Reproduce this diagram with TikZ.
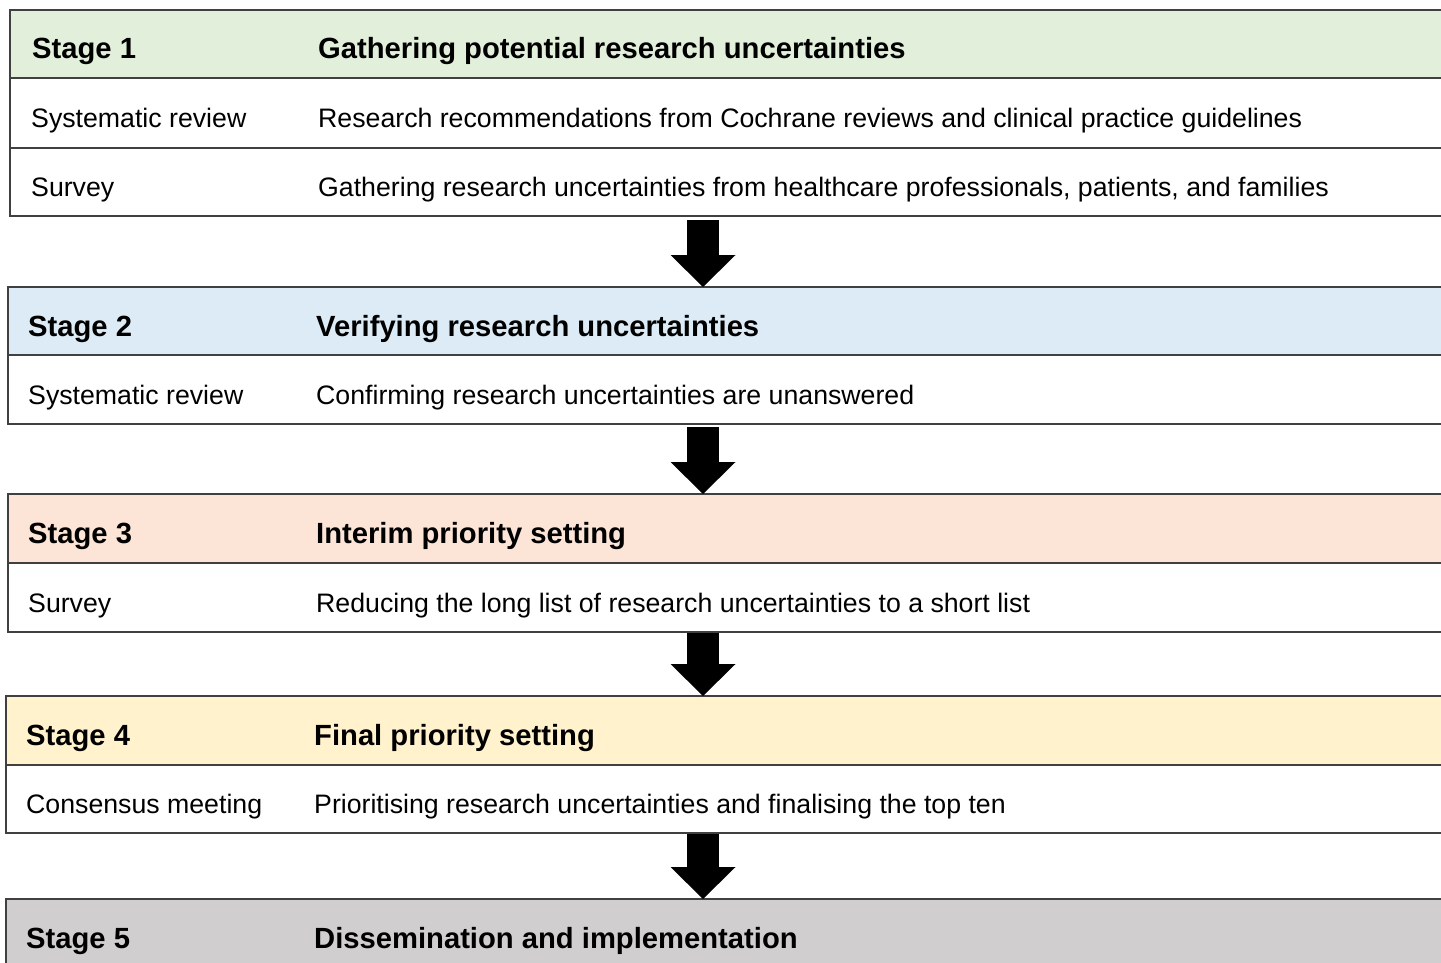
\documentclass[tikz,border=0pt]{standalone}
\usepackage{fontspec}
\setmainfont{Liberation Sans}
\usetikzlibrary{arrows.meta,calc}
\definecolor{cOne}{HTML}{E2EFDA}
\definecolor{cTwo}{HTML}{DDEBF7}
\definecolor{cThree}{HTML}{FCE4D6}
\definecolor{cFour}{HTML}{FFF2CC}
\definecolor{cFive}{HTML}{D0CECE}
\definecolor{lineCol}{HTML}{404040}
\begin{document}
\begin{tikzpicture}[x=1pt,y=-1pt,
  band/.style={draw=lineCol,line width=1.5pt,minimum width=1470pt,inner sep=0pt,outer sep=0pt,anchor=north west},
  lab/.style={font=\fontsize{26.7}{32}\selectfont,inner sep=0pt,anchor=base west},
  hlab/.style={lab,font=\fontsize{29.2}{34}\selectfont\bfseries},
  bigarr/.style={line width=32pt,draw=black,-{Triangle[width=65pt,length=32pt,line width=0pt]}}]
\clip (0,0) rectangle (1441,963);
\useasboundingbox (0,0) rectangle (1441,963);
\fill[white] (0,0) rectangle (1441,963);
% Stage 1
\node[band,fill=cOne,minimum height=68pt] (h1) at (10,10) {};
\node[band,fill=white,minimum height=70pt] (r11) at (h1.south west) {};
\node[band,fill=white,minimum height=68pt] (r12) at (r11.south west) {};
% Stage 2
\node[band,fill=cTwo,minimum height=68pt] (h2) at (8,287) {};
\node[band,fill=white,minimum height=69pt] (r21) at (h2.south west) {};
% Stage 3
\node[band,fill=cThree,minimum height=69pt] (h3) at (8,494) {};
\node[band,fill=white,minimum height=69pt] (r31) at (h3.south west) {};
% Stage 4
\node[band,fill=cFour,minimum height=69pt] (h4) at (6,696) {};
\node[band,fill=white,minimum height=68pt] (r41) at (h4.south west) {};
% Stage 5
\node[band,fill=cFive,minimum height=90pt] (h5) at (6,899) {};
% texts
\node[hlab] (t1a) at ([xshift=22pt,yshift=-15pt]h1.west) {Stage 1};
\node[hlab] (t1b) at ([xshift=308pt,yshift=-15pt]h1.west) {Gathering potential research uncertainties};
\node[lab] (t11a) at ([xshift=21pt,yshift=-14.5pt]r11.west) {Systematic review};
\node[lab] (t11b) at ([xshift=308pt,yshift=-14.5pt]r11.west) {Research recommendations from Cochrane reviews and clinical practice guidelines};
\node[lab] (t12a) at ([xshift=21pt,yshift=-14.5pt]r12.west) {Survey};
\node[lab] (t12b) at ([xshift=308pt,yshift=-14.5pt]r12.west) {Gathering research uncertainties from healthcare professionals, patients, and families};
\node[hlab] (t2a) at ([xshift=20pt,yshift=-15pt]h2.west) {Stage 2};
\node[hlab] (t2b) at ([xshift=308pt,yshift=-15pt]h2.west) {Verifying research uncertainties};
\node[lab] (t21a) at ([xshift=20pt,yshift=-14.5pt]r21.west) {Systematic review};
\node[lab] (t21b) at ([xshift=308pt,yshift=-14.5pt]r21.west) {Confirming research uncertainties are unanswered};
\node[hlab] (t3a) at ([xshift=20pt,yshift=-15pt]h3.west) {Stage 3};
\node[hlab] (t3b) at ([xshift=308pt,yshift=-15pt]h3.west) {Interim priority setting};
\node[lab] (t31a) at ([xshift=20pt,yshift=-14.5pt]r31.west) {Survey};
\node[lab] (t31b) at ([xshift=308pt,yshift=-14.5pt]r31.west) {Reducing the long list of research uncertainties to a short list};
\node[hlab] (t4a) at ([xshift=20pt,yshift=-15pt]h4.west) {Stage 4};
\node[hlab] (t4b) at ([xshift=308pt,yshift=-15pt]h4.west) {Final priority setting};
\node[lab] (t41a) at ([xshift=20pt,yshift=-14.5pt]r41.west) {Consensus meeting};
\node[lab] (t41b) at ([xshift=308pt,yshift=-14.5pt]r41.west) {Prioritising research uncertainties and finalising the top ten};
\node[hlab] (t5a) at (26,948.5) {Stage 5};
\node[hlab] (t5b) at (314,948.5) {Dissemination and implementation};
% arrows
\coordinate (ax) at (703,0);
\draw[bigarr] ($(ax |- r12.south)+(0,4)$) -- (ax |- h2.north);
\draw[bigarr] ($(ax |- r21.south)+(0,3)$) -- (ax |- h3.north);
\draw[bigarr] ($(ax |- r31.south)+(0,1)$) -- (ax |- h4.north);
\draw[bigarr] ($(ax |- r41.south)+(0,1)$) -- (ax |- h5.north);
\end{tikzpicture}
\end{document}
